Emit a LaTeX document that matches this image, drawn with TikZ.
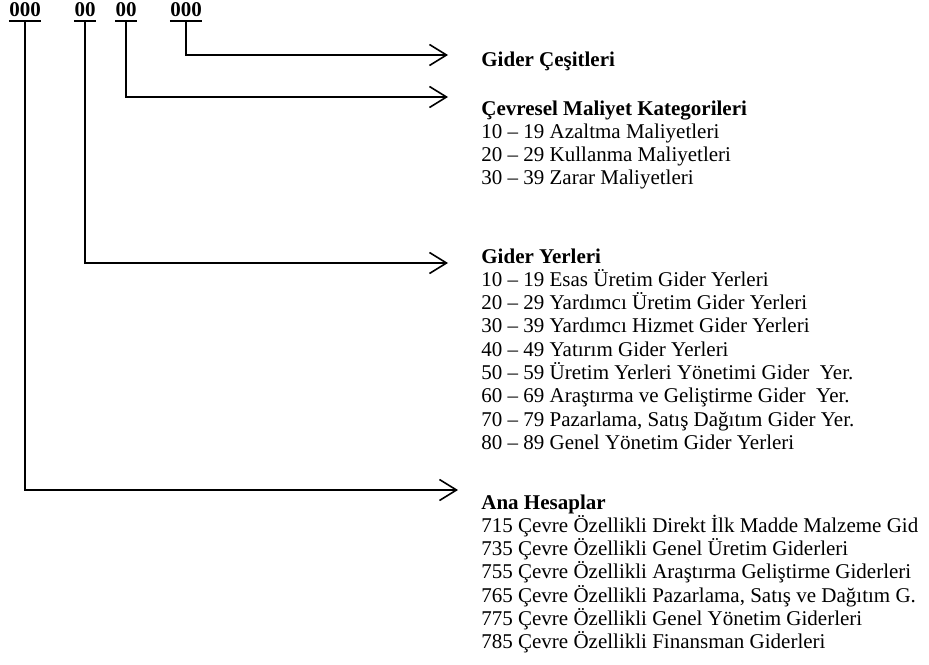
\documentclass[tikz,border=0pt]{standalone}
\usepackage{fontspec}
\setmainfont{Liberation Serif}
\usetikzlibrary{arrows.meta}

\begin{document}
\begin{tikzpicture}[x=0.5pt, y=-0.5pt, font=\fontsize{10.5}{11.6}\selectfont,
  code/.style={inner xsep=0pt, inner ysep=1.5pt, anchor=base, font=\fontsize{10.5}{11.6}\selectfont\bfseries},
  head/.style={inner sep=0pt, anchor=base west, font=\fontsize{10.5}{11.6}\selectfont\bfseries},
  item/.style={inner sep=0pt, anchor=base west},
  line/.style={draw, line width=1pt, -{Straight Barb[length=8.5pt, width=10.5pt, line width=0.8pt]}}]
  \useasboundingbox (0,0) rectangle (929,664);

  % account code parts
  \node [code] (ana) at (25,17) {000};
  \node [code] (yer) at (85,17) {00};
  \node [code] (kat) at (126,17) {00};
  \node [code] (cesit) at (186,17) {000};
  \foreach \c in {ana, yer, kat, cesit}
    \draw [line width=1pt] (\c.south west) -- (\c.south east);

  % headings
  \node [head] (hcesit) at (481,66) {Gider Çeşitleri};
  \node [head] (hkat) at (481,115) {Çevresel Maliyet Kategorileri};
  \node [head] (hyer) at (481,263) {Gider Yerleri};
  \node [head] (hana) at (481,509) {Ana Hesaplar};

  % lists
  \foreach \t [count=\i] in {10 – 19 Azaltma Maliyetleri, 20 – 29 Kullanma Maliyetleri, 30 – 39 Zarar Maliyetleri}
    \node [item] (kat\i) at (481,115+23.3*\i) {\t};
  \foreach \t [count=\i] in {10 – 19 Esas Üretim Gider Yerleri, 20 – 29 Yardımcı Üretim Gider Yerleri,
      30 – 39 Yardımcı Hizmet Gider Yerleri, 40 – 49 Yatırım Gider Yerleri,
      50 – 59 Üretim Yerleri Yönetimi Gider~ Yer., 60 – 69 Araştırma ve Geliştirme Gider~ Yer.,
      {70 – 79 Pazarlama, Satış Dağıtım Gider Yer.}, 80 – 89 Genel Yönetim Gider Yerleri}
    \node [item] (yer\i) at (481,263+23.3*\i) {\t};
  \foreach \t [count=\i] in {715 Çevre Özellikli Direkt İlk Madde Malzeme Gid,
      735 Çevre Özellikli Genel Üretim Giderleri, 755 Çevre Özellikli Araştırma Geliştirme Giderleri,
      {765 Çevre Özellikli Pazarlama, Satış ve Dağıtım G.}, 775 Çevre Özellikli Genel Yönetim Giderleri,
      785 Çevre Özellikli Finansman Giderleri}
    \node [item] (ana\i) at (481,509+23.3*\i) {\t};

  % arrow ends
  \coordinate (tcesit) at (448,55);
  \coordinate (tkat) at (448,97);
  \coordinate (tyer) at (448,263);
  \coordinate (tana) at (458,490);

  \draw [line] (cesit.south) |- (tcesit);
  \draw [line] (kat.south) |- (tkat);
  \draw [line] (yer.south) |- (tyer);
  \draw [line] (ana.south) |- (tana);
\end{tikzpicture}
\end{document}
